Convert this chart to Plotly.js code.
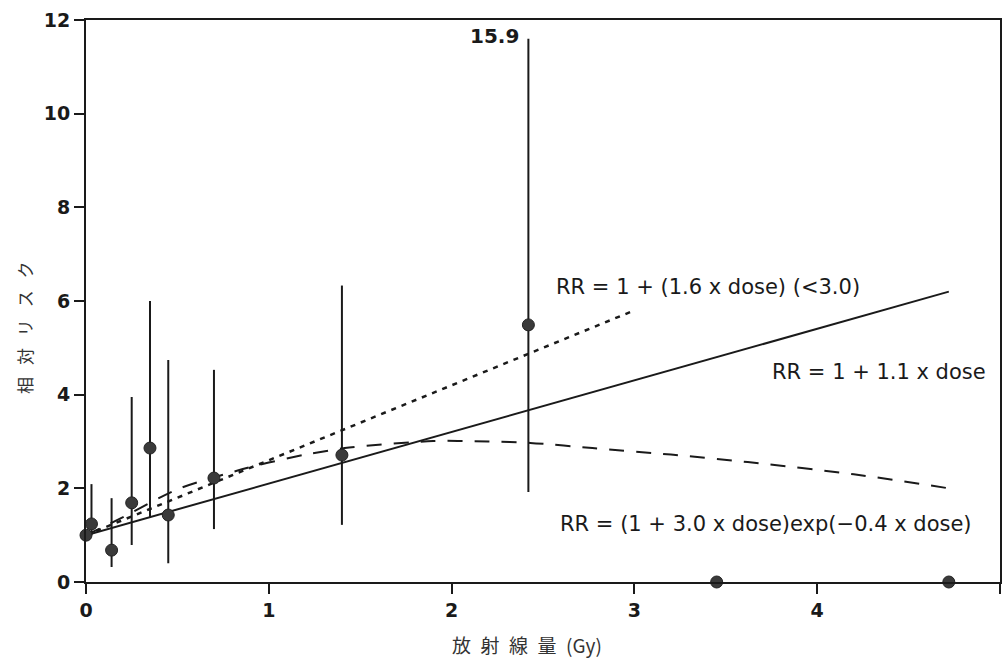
<!DOCTYPE html>
<html>
<head>
<meta charset="utf-8">
<script src="https://cdn.plot.ly/plotly-3.0.1.min.js"></script>
<style>html,body{margin:0;padding:0;background:#fff;}#chart{width:1002px;height:659px;}</style>
</head>
<body>
<div id="chart"></div>
<script>
// Observed points (dose in Gy, relative risk, confidence limits)
const dose   = [0.0, 0.03, 0.14, 0.25, 0.35, 0.45, 0.70, 1.40, 2.42, 3.45, 4.72];
const rr     = [1.0, 1.24, 0.68, 1.69, 2.86, 1.43, 2.22, 2.71, 5.49, 0.0, 0.0];
const ciLow  = [1.0, 1.00, 0.32, 0.79, 1.37, 0.40, 1.13, 1.22, 1.92, 0.0, 0.0];
const ciHigh = [1.0, 2.09, 1.79, 3.95, 6.00, 4.74, 4.53, 6.33, 15.9, 0.0, 0.0];
const ciDrawCap = 11.6; // bar drawn up to here when the upper limit is off-scale

// Fitted curves
const linDose  = [0.0, 4.72];
const linRR    = [1.0, 6.2];
const lin16Dose = [0.0, 3.0];
const lin16RR   = [1.0, 5.8];
const expDose = [0.0, 0.2, 0.5, 0.83, 1.0, 1.2, 1.44, 1.9, 2.2, 2.43, 2.77, 3.2, 3.62, 4.2, 4.72];
const expRR   = [1.0, 1.38, 1.98, 2.38, 2.55, 2.72, 2.87, 3.01, 3.0, 2.97, 2.86, 2.72, 2.56, 2.3, 2.0];

const xTicks = [0, 1, 2, 3, 4, 5];
const yTicks = [0, 2, 4, 6, 8, 10, 12];

const ink = '#1a1a1a';
const font = 'DejaVu Sans, Liberation Sans, sans-serif';
const cjk = 'Noto Sans CJK JP, sans-serif';

const plus  = ciHigh.map((h, i) => Math.min(h, ciDrawCap) - rr[i]);
const minus = ciLow.map((l, i) => rr[i] - l);

const traces = [
  {x: linDose, y: linRR, mode: 'lines', line: {color: ink, width: 2}, hoverinfo: 'skip'},
  {x: lin16Dose, y: lin16RR, mode: 'lines', line: {color: ink, width: 2.5, dash: '5px,6px'}, hoverinfo: 'skip'},
  {x: expDose, y: expRR, mode: 'lines', line: {color: ink, width: 2, dash: '15px,12px', shape: 'spline', smoothing: 0.8}, hoverinfo: 'skip'},
  {x: dose, y: rr, mode: 'markers', cliponaxis: false,
   marker: {color: '#3a3a3a', size: 12, line: {color: '#222', width: 1}},
   error_y: {type: 'data', symmetric: false, array: plus, arrayminus: minus, color: ink, thickness: 2, width: 0},
   hoverinfo: 'x+y'}
];

const annFont = {family: font, size: 21, color: ink};

const layout = {
  width: 1002, height: 659,
  margin: {l: 86, r: 2, t: 20, b: 77},
  paper_bgcolor: '#fff', plot_bgcolor: '#fff',
  showlegend: false,
  font: {family: font, color: ink, size: 19},
  xaxis: {
    range: [0, 5], tickvals: xTicks, ticks: 'outside', ticklen: 10, tickwidth: 2, tickcolor: ink,
    showline: true, linecolor: ink, linewidth: 2, mirror: true, showgrid: false, zeroline: false,
    tickfont: {family: font, size: 19, color: ink, weight: 'bold'}
  },
  yaxis: {
    range: [0, 12], tickvals: yTicks, ticks: 'outside', ticklen: 10, tickwidth: 2, tickcolor: ink,
    showline: true, linecolor: ink, linewidth: 2, mirror: true, showgrid: false, zeroline: false,
    tickfont: {family: font, size: 19, color: ink, weight: 'bold'}
  },
  annotations: [
    {x: 2.56, y: 6.3, xref: 'x', yref: 'y', xanchor: 'left', yanchor: 'middle', showarrow: false,
     text: 'RR = 1 + (1.6 x dose) (<3.0)', font: annFont},
    {x: 3.74, y: 4.49, xref: 'x', yref: 'y', xanchor: 'left', yanchor: 'middle', showarrow: false,
     text: 'RR = 1 + 1.1 x dose', font: annFont},
    {x: 2.58, y: 1.24, xref: 'x', yref: 'y', xanchor: 'left', yanchor: 'middle', showarrow: false,
     text: 'RR = (1 + 3.0 x dose)exp(\u22120.4 x dose)', font: annFont},
    {x: 2.38, y: 11.65, xref: 'x', yref: 'y', xanchor: 'right', yanchor: 'middle', showarrow: false,
     text: '15.9', font: {family: font, size: 20, color: ink, weight: 'bold'}},
    {x: 2.41, y: -0.112, xref: 'x', yref: 'paper', xanchor: 'center', yanchor: 'middle', showarrow: false,
     text: '放\u2002射\u2002線\u2002量\u2002(Gy)', font: {family: cjk, size: 19, color: '#333'}},
    {x: 0, y: 0.452, xref: 'paper', yref: 'paper', xanchor: 'center', yanchor: 'middle', xshift: -61,
     showarrow: false, textangle: -90,
     text: '相\u2002\u2009対\u2002\u2009リ\u2002\u2009ス\u2002\u2009ク', font: {family: cjk, size: 17, color: '#333'}}
  ]
};

Plotly.newPlot('chart', traces, layout, {displayModeBar: false, staticPlot: true});
</script>
</body>
</html>
